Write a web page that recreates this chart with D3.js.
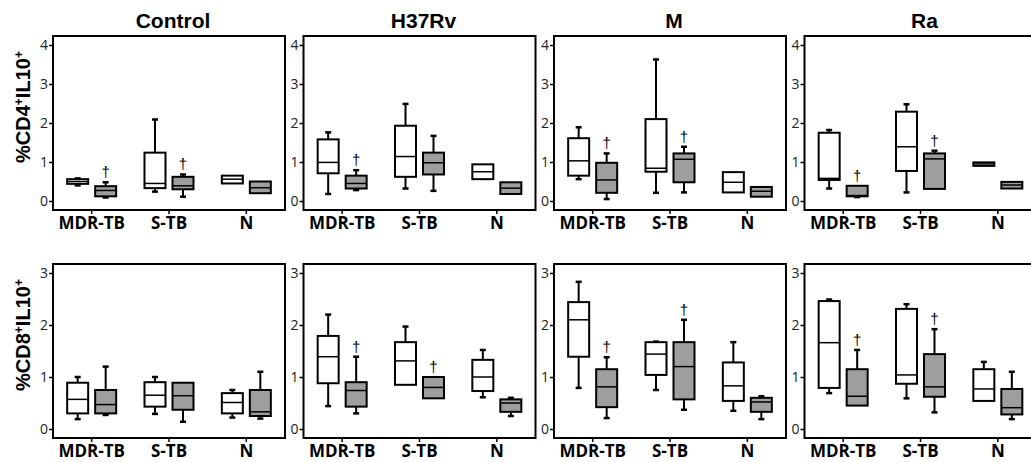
<!DOCTYPE html>
<html>
<head>
<meta charset="utf-8">
<script src="https://cdn.jsdelivr.net/npm/d3@7"></script>
<style>
body { margin: 0; background: #fff; }
text { font-family: "Liberation Sans", Arial, sans-serif; }
.tick text { font-family: "Open Sans", sans-serif; }
</style>
</head>
<body>
<div id="chart_container"></div>
<script>
var panels = ["Control", "H37Rv", "M", "Ra"];
var groups = ["MDR-TB", "S-TB", "N"];
var fills = ["#ffffff", "#9e9e9e"];

// [min, q1, median, q3, max], order: MDR white, MDR gray, S-TB white, S-TB gray, N white, N gray
var cd4Control = [[0.40, 0.44, 0.50, 0.56, 0.58], [0.09, 0.12, 0.27, 0.38, 0.48],
    [0.24, 0.33, 0.45, 1.24, 2.09], [0.11, 0.30, 0.39, 0.62, 0.68],
    [0.45, 0.45, 0.56, 0.65, 0.65], [0.20, 0.20, 0.34, 0.50, 0.50]];
var cd4H37Rv = [[0.18, 0.71, 0.99, 1.58, 1.76], [0.28, 0.32, 0.45, 0.65, 0.79],
    [0.32, 0.62, 1.14, 1.93, 2.49], [0.26, 0.68, 0.98, 1.24, 1.67],
    [0.56, 0.56, 0.75, 0.94, 0.94], [0.18, 0.18, 0.33, 0.48, 0.48]];
var cd4M = [[0.56, 0.65, 1.03, 1.61, 1.89], [0.05, 0.21, 0.54, 0.98, 1.22],
    [0.21, 0.75, 0.84, 2.10, 3.63], [0.22, 0.48, 1.07, 1.22, 1.39],
    [0.22, 0.22, 0.48, 0.74, 0.74], [0.11, 0.11, 0.25, 0.36, 0.36]];
var cd4Ra = [[0.32, 0.54, 0.58, 1.75, 1.82], [0.10, 0.12, 0.14, 0.39, 0.39],
    [0.22, 0.77, 1.39, 2.29, 2.48], [0.31, 0.31, 1.08, 1.22, 1.29],
    [0.90, 0.90, 0.95, 0.99, 0.99], [0.32, 0.32, 0.41, 0.49, 0.49]];

var cd8Control = [[0.19, 0.30, 0.57, 0.89, 1.00], [0.27, 0.30, 0.47, 0.75, 1.20],
    [0.29, 0.43, 0.65, 0.90, 1.00], [0.14, 0.37, 0.64, 0.89, 0.89],
    [0.22, 0.30, 0.51, 0.69, 0.75], [0.20, 0.25, 0.33, 0.75, 1.10]];
var cd8H37Rv = [[0.44, 0.88, 1.39, 1.79, 2.20], [0.30, 0.43, 0.74, 0.90, 1.39],
    [0.85, 0.85, 1.31, 1.67, 1.97], [0.59, 0.59, 0.80, 1.00, 1.00],
    [0.61, 0.73, 1.00, 1.33, 1.52], [0.25, 0.33, 0.50, 0.57, 0.60]];
var cd8M = [[0.79, 1.39, 2.10, 2.44, 2.83], [0.21, 0.42, 0.81, 1.15, 1.38],
    [0.75, 1.04, 1.44, 1.67, 1.68], [0.37, 0.57, 1.20, 1.67, 2.10],
    [0.35, 0.54, 0.83, 1.28, 1.67], [0.19, 0.33, 0.52, 0.60, 0.63]];
var cd8Ra = [[0.69, 0.79, 1.66, 2.46, 2.49], [0.45, 0.45, 0.63, 1.15, 1.52],
    [0.59, 0.87, 1.04, 2.31, 2.40], [0.32, 0.62, 0.81, 1.44, 1.92],
    [0.54, 0.54, 0.77, 1.15, 1.29], [0.19, 0.28, 0.41, 0.77, 1.10]];

// dagger above the gray box, per panel per group
var cd4Dagger = [[1, 1, 0], [1, 0, 0], [1, 1, 0], [1, 1, 0]];
var cd8Dagger = [[0, 0, 0], [1, 1, 0], [1, 1, 0], [1, 1, 0]];

var cd4Ticks = [0, 1, 2, 3, 4];
var cd8Ticks = [0, 1, 2, 3];

var rows = [
    { label: "CD4", data: [cd4Control, cd4H37Rv, cd4M, cd4Ra], dagger: cd4Dagger, ticks: cd4Ticks, top: 36, titles: true },
    { label: "CD8", data: [cd8Control, cd8H37Rv, cd8M, cd8Ra], dagger: cd8Dagger, ticks: cd8Ticks, top: 264, titles: false }
];

var W = 232, H = 174;
var svg = d3.select("#chart_container").append("svg")
    .attr("width", 1031)
    .attr("height", 462);

var x = d3.scaleBand().domain(groups).range([0, W]);
var boxW = 21, offset = 14, capW = 6;

rows.forEach(function(row) {
    var top = d3.max(row.ticks);
    var y = d3.scaleLinear().domain([0, top]).range([165, 9]);

    // y label
    var lab = svg.append("text")
        .attr("transform", "translate(30," + (row.top + 71) + ") rotate(-90)")
        .attr("text-anchor", "middle")
        .attr("font-weight", "bold")
        .attr("font-size", 20);
    lab.append("tspan").text("%" + row.label);
    lab.append("tspan").text("+").attr("font-size", 12).attr("dy", -7);
    lab.append("tspan").text("IL10").attr("dy", 7);
    lab.append("tspan").text("+").attr("font-size", 12).attr("dy", -7);

    panels.forEach(function(p, i) {
        var g = svg.append("g")
            .attr("transform", "translate(" + (53 + i * 250.5) + "," + row.top + ")");

        if (row.titles) {
            svg.append("text")
                .attr("x", 53 + i * 250.5 + W / 2 + 4)
                .attr("y", 28)
                .attr("text-anchor", "middle")
                .attr("font-weight", "bold")
                .attr("font-size", 21)
                .text(p);
        }

        var yAxis = g.append("g")
            .call(d3.axisLeft(y).tickValues(row.ticks).tickSize(4).tickPadding(1).tickFormat(d3.format("d")));
        yAxis.select(".domain").remove();
        yAxis.selectAll(".tick line").attr("stroke", "#000").attr("stroke-width", 1.5);
        yAxis.selectAll(".tick text").attr("font-size", 14).attr("fill", "#222");

        var xAxis = g.append("g")
            .attr("transform", "translate(0," + H + ")")
            .call(d3.axisBottom(x).tickSize(4).tickPadding(3));
        xAxis.select(".domain").remove();
        xAxis.selectAll(".tick line").attr("stroke", "#000").attr("stroke-width", 1.5);
        xAxis.selectAll(".tick text")
            .attr("font-family", "Liberation Sans, Arial, sans-serif")
            .attr("font-weight", "bold")
            .attr("font-size", 17)
            .attr("fill", "#000")
            .attr("dy", "0.71em");

        g.append("rect")
            .attr("width", W)
            .attr("height", H)
            .attr("fill", "none")
            .attr("stroke", "#000")
            .attr("stroke-width", 2);

        row.data[i].forEach(function(s, k) {
            var gi = Math.floor(k / 2), si = k % 2;
            var cx = x(groups[gi]) + x.bandwidth() / 2 + (si === 0 ? -offset : offset);
            var b = g.append("g").attr("stroke", "#000").attr("stroke-width", 2);

            if (s[4] > s[3]) {
                b.append("line").attr("x1", cx).attr("x2", cx).attr("y1", y(s[3])).attr("y2", y(s[4]));
                b.append("line").attr("x1", cx - capW / 2).attr("x2", cx + capW / 2).attr("y1", y(s[4])).attr("y2", y(s[4])).attr("stroke-width", 2.5);
            }
            if (s[0] < s[1]) {
                b.append("line").attr("x1", cx).attr("x2", cx).attr("y1", y(s[1])).attr("y2", y(s[0]));
                b.append("line").attr("x1", cx - capW / 2).attr("x2", cx + capW / 2).attr("y1", y(s[0])).attr("y2", y(s[0])).attr("stroke-width", 2.5);
            }
            b.append("rect")
                .attr("x", cx - boxW / 2)
                .attr("width", boxW)
                .attr("y", y(s[3]))
                .attr("height", y(s[1]) - y(s[3]))
                .attr("fill", fills[si]);
            b.append("line")
                .attr("x1", cx - boxW / 2).attr("x2", cx + boxW / 2)
                .attr("y1", y(s[2])).attr("y2", y(s[2]))
                .attr("stroke-width", 1.5);

            if (si === 1 && row.dagger[i][gi]) {
                g.append("text")
                    .attr("x", cx)
                    .attr("y", y(s[4]) - 5)
                    .attr("text-anchor", "middle")
                    .attr("font-family", "Liberation Sans, sans-serif")
                    .attr("font-size", 15)
                    .attr("fill", "#000")
                    .text("\u2020");
            }
        });
    });
});
</script>
</body>
</html>
